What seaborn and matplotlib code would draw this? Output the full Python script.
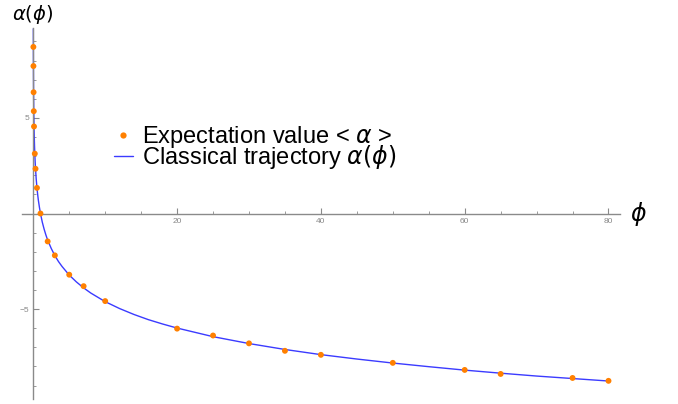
import matplotlib
matplotlib.use("Agg")
import matplotlib.pyplot as plt
import seaborn as sns
import numpy as np
import pandas as pd
from matplotlib.lines import Line2D
from matplotlib.ticker import MultipleLocator, FixedLocator

# Expectation value points
phi_pts = [0.013, 0.021, 0.042, 0.07, 0.1, 0.21, 0.31, 0.51, 1, 2, 3, 5, 7, 10,
           20, 25, 30, 35, 40, 50, 60, 65, 75, 80]
alpha_pts = [8.71, 7.71, 6.34, 5.35, 4.55, 3.13, 2.34, 1.34, 0.0, -1.46, -2.19, -3.20,
             -3.80, -4.58, -6.02, -6.38, -6.79, -7.18, -7.39, -7.81, -8.18, -8.39,
             -8.60, -8.75]

# Classical trajectory
phi_curve = [0.008, 0.01, 0.012, 0.015, 0.02, 0.025, 0.03, 0.04, 0.05, 0.07, 0.1, 0.13,
             0.17, 0.2, 0.25, 0.3, 0.4, 0.5, 0.6, 0.7, 0.85, 1, 1.25, 1.5, 1.75, 2, 2.5,
             3, 3.5, 4, 5, 6, 7, 8, 10, 12, 14, 16, 18, 20, 25, 30, 35, 40, 45, 50, 55,
             60, 65, 70, 75, 80]
alpha_curve = [9.66, 9.21, 8.85, 8.40, 7.82, 7.38, 7.01, 6.44, 5.99, 5.32, 4.61, 4.08,
               3.54, 3.22, 2.77, 2.41, 1.83, 1.39, 1.02, 0.71, 0.33, 0.0, -0.45, -0.81,
               -1.12, -1.39, -1.83, -2.20, -2.51, -2.77, -3.22, -3.58, -3.89, -4.16,
               -4.61, -4.97, -5.28, -5.55, -5.78, -5.99, -6.44, -6.80, -7.11, -7.38,
               -7.61, -7.82, -8.01, -8.19, -8.35, -8.50, -8.63, -8.76]

x_major = [20, 40, 60, 80]
y_major = [-5, 5]

sns.set_style("white")
plt.rcParams['font.family'] = ['Liberation Sans', 'DejaVu Sans']
plt.rcParams['mathtext.fontset'] = 'dejavusans'
plt.rcParams['text.color'] = 'black'

fig = plt.figure(figsize=(6.78, 4.04), dpi=100)
ax = fig.add_axes([22/678, 1-399/404, (620-22)/678, (399-28)/404])

df_c = pd.DataFrame({"phi": phi_curve, "alpha": alpha_curve})
df_p = pd.DataFrame({"phi": phi_pts, "alpha": alpha_pts})
blue = "#3b3bff"
orange = "#ff8000"
sns.lineplot(data=df_c, x="phi", y="alpha", ax=ax, color=blue, lw=1.0, sort=False,
             estimator=None, zorder=2)
sns.scatterplot(data=df_p, x="phi", y="alpha", ax=ax, color=orange, s=18,
                edgecolor="none", zorder=3)

ax.set_xlim(-1.57, 81.6)
ax.set_ylim(-9.7, 9.7)
ax.set_xlabel("")
ax.set_ylabel("")

axis_col = "#8a8a8a"
for s in ["top", "right"]:
    ax.spines[s].set_visible(False)
ax.spines["left"].set_position(("data", 0))
ax.spines["bottom"].set_position(("data", 0))
for s in ["left", "bottom"]:
    ax.spines[s].set_color(axis_col)
    ax.spines[s].set_linewidth(1.0)

ax.xaxis.set_major_locator(FixedLocator(x_major))
ax.xaxis.set_minor_locator(MultipleLocator(5))
ax.yaxis.set_major_locator(FixedLocator(y_major))
ax.yaxis.set_minor_locator(MultipleLocator(1))
ax.set_xticklabels([str(v) for v in x_major])
ax.set_yticklabels(["\u22125", "5"])
ax.tick_params(axis="both", which="major", direction="in", length=4, width=0.8,
               color=axis_col, labelsize=6, labelcolor="#888888", pad=3)
ax.tick_params(axis="both", which="minor", direction="in", length=2.5, width=0.6,
               color=axis_col)
ax.tick_params(axis="x", which="both", bottom=True, top=False)
ax.tick_params(axis="y", which="both", left=True, right=False)

fig.text(12/678, 1-20/404, r"$\alpha(\phi)$", fontsize=14, ha="left", va="baseline",
         color="black")
fig.text(630/678, 1-221/404, r"$\phi$", fontsize=17, ha="left", va="baseline",
         color="black")

handles = [Line2D([], [], ls="none", marker="o", ms=4.5, color=orange, mec="none"),
           Line2D([], [], color=blue, lw=1.0)]
labels = [r"Expectation value < $\alpha$ >", r"Classical trajectory $\alpha(\phi)$"]
ax.legend(handles, labels, loc="upper left", bbox_to_anchor=(114/678, 1-124/404),
          bbox_transform=fig.transFigure, frameon=False, fontsize=17,
          labelspacing=-0.3, handlelength=0.8, handletextpad=0.4, borderpad=0,
          borderaxespad=0, labelcolor="black")

fig.savefig("out.png", dpi=100)
